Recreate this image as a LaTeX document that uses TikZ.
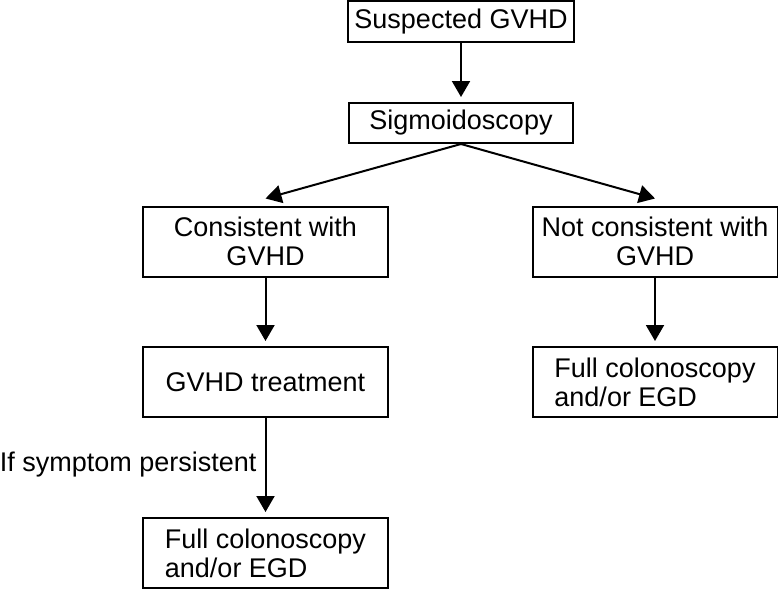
\documentclass[tikz,border=0pt]{standalone}
\usepackage{fontspec}
\setmainfont{Liberation Sans}
\usetikzlibrary{arrows.meta}

\begin{document}
\begin{tikzpicture}[x=1pt, y=-1pt,
  font=\fontsize{27}{29}\selectfont,
  smallbox/.style={draw, line width=2pt, minimum width=226pt, minimum height=41pt, inner sep=0pt},
  bigbox/.style={draw, line width=2pt, minimum width=245pt, minimum height=70pt, align=center, inner sep=0pt},
  arr/.style={line width=2pt, -{Triangle[width=18pt,length=16pt]}}]
  \useasboundingbox (0,0) rectangle (778,590);

  \node[smallbox] (susp) at (461,21.5) {Suspected GVHD};
  \node[smallbox, minimum width=224pt, minimum height=40pt] (sigm) at (461,123) {Sigmoidoscopy};
  \node[bigbox] (cons)  at (265.5,241.5) {Consistent with\\GVHD};
  \node[bigbox] (ncons) at (655,241.5)   {Not consistent with\\GVHD};
  \node[bigbox] (treat) at (265.5,382)   {GVHD treatment};
  \node[bigbox, align=left] (colR) at (655,382)   {Full colonoscopy\\and/or EGD};
  \node[bigbox, align=left] (colL) at (265.5,553) {Full colonoscopy\\and/or EGD};

  \draw[arr] (susp.south)  -- ([yshift=5pt]sigm.north);
  \draw[arr] (sigm.south)  -- ([yshift=7pt]cons.north);
  \draw[arr] (sigm.south)  -- ([yshift=7pt]ncons.north);
  \draw[arr] (cons.south)  -- ([yshift=5pt]treat.north);
  \draw[arr] (ncons.south) -- ([yshift=5pt]colR.north);
  \draw[arr] (treat.south) -- node[left, inner sep=8pt] {If symptom persistent} ([yshift=5pt]colL.north);
\end{tikzpicture}
\end{document}
